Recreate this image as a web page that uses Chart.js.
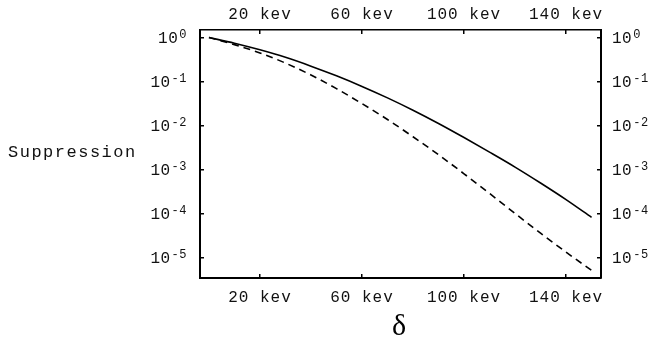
<!DOCTYPE html>
<html>
<head>
  <meta charset="UTF-8" />
  <title>Suppression</title>
  <script src="https://cdn.jsdelivr.net/npm/chart.js"></script>
  <style>
    html, body { margin: 0; padding: 0; background: #fff; }
    canvas { display: block; }
  </style>
</head>
<body>
  <canvas id="grafico" width="652" height="339"></canvas>

  <script>
    // datos (delta en kev, supresion)
    const deltas = [0, 10, 20, 30, 40, 50, 60, 70, 80, 90, 100, 110, 120, 130, 140, 150];
    const suppressionSolid = [1, 0.741, 0.525, 0.355, 0.224, 0.135, 0.0776, 0.0427, 0.0224, 0.0112,
      0.00537, 0.00251, 0.00115, 0.0005, 0.00021, 0.000083];
    const suppressionDashed = [1, 0.69, 0.447, 0.263, 0.141, 0.0692, 0.0316, 0.0138, 0.0056, 0.00219,
      0.00081, 0.00029, 0.000102, 0.0000363, 0.0000135, 0.0000052];

    const xTicks = [20, 60, 100, 140];
    const xTickLabels = ['20 kev', '60 kev', '100 kev', '140 kev'];
    const yTicks = [1, 0.1, 0.01, 0.001, 0.0001, 0.00001];
    const yTickExp = ['0', '-1', '-2', '-3', '-4', '-5'];

    const xMin = -3.5, xMax = 153.7;
    const yMin = 3.5e-6, yMax = 1.48;

    const monoFam = "'Liberation Mono', 'DejaVu Sans Mono', monospace";
    const mono = { family: monoFam, size: 16 };

    function pts(ys) {
      return deltas.map((d, i) => ({ x: d, y: ys[i] }));
    }

    function xAxis(pos, pad, size) {
      return {
        type: 'linear', position: pos, min: xMin, max: xMax,
        border: { display: true, color: '#000', width: pos === 'top' ? 1.5 : 2 },
        grid: { display: true, drawOnChartArea: false, drawTicks: true, tickLength: -4, color: '#000', lineWidth: 1.5 },
        afterBuildTicks: s => { s.ticks = xTicks.map(v => ({ value: v })); },
        afterFit: s => { s.height = size; },
        ticks: {
          color: '#111', font: mono, padding: pad, maxRotation: 0, autoSkip: false,
          callback: (v) => xTickLabels[xTicks.indexOf(v)]
        }
      };
    }

    function yAxis(pos, size) {
      return {
        type: 'logarithmic', position: pos, min: yMin, max: yMax,
        border: { display: true, color: '#000', width: 2 },
        grid: { display: true, drawOnChartArea: false, drawTicks: true, tickLength: -4, color: '#000', lineWidth: 1.5 },
        afterBuildTicks: s => { s.ticks = yTicks.map(v => ({ value: v })); },
        afterFit: s => { s.width = size; },
        ticks: { display: false }
      };
    }

    // potencias de 10 con exponente elevado, en las posiciones de la escala
    const potencias = {
      id: 'potencias',
      afterDraw(chart) {
        const ctx = chart.ctx;
        ctx.save();
        ctx.fillStyle = '#111';
        ctx.letterSpacing = '0.5px';
        ['y', 'y2'].forEach(id => {
          const s = chart.scales[id];
          yTicks.forEach((v, i) => {
            const py = s.getPixelForValue(v);
            ctx.font = '16px ' + monoFam;
            const wBase = ctx.measureText('10').width;
            ctx.font = '12px ' + monoFam;
            const wExp = ctx.measureText(yTickExp[i]).width;
            let x0 = id === 'y' ? s.right - 13 - wExp - wBase - 1 : s.left + 11;
            ctx.textAlign = 'left';
            ctx.textBaseline = 'middle';
            ctx.font = '16px ' + monoFam;
            ctx.fillText('10', x0, py + 1);
            ctx.font = '12px ' + monoFam;
            ctx.textBaseline = 'alphabetic';
            ctx.fillText(yTickExp[i], x0 + wBase + 1, py);
          });
        });
        ctx.restore();
      }
    };

    // textos fuera de los ejes: "Suppression" horizontal y delta
    const etiquetas = {
      id: 'etiquetas',
      beforeDraw(chart) { chart.ctx.letterSpacing = '1px'; },
      afterDraw(chart) {
        const ctx = chart.ctx;
        ctx.save();
        ctx.fillStyle = '#111';
        ctx.textBaseline = 'alphabetic';
        ctx.textAlign = 'left';
        ctx.letterSpacing = '1.5px';
        ctx.font = "17px " + monoFam;
        ctx.fillText('Suppression', 8, 157);
        ctx.letterSpacing = '0px';
        ctx.textAlign = 'center';
        ctx.font = "30px 'Liberation Serif', serif";
        ctx.fillStyle = '#000';
        ctx.fillText('δ', 399, 335);
        ctx.restore();
      }
    };

    const ctx = document.getElementById('grafico').getContext('2d');
    new Chart(ctx, {
      type: 'line',
      data: {
        datasets: [
          { data: pts(suppressionSolid), borderColor: '#000', borderWidth: 1.6, pointRadius: 0, cubicInterpolationMode: 'monotone', fill: false },
          { data: pts(suppressionDashed), borderColor: '#000', borderWidth: 1.6, borderDash: [7, 5], pointRadius: 0, cubicInterpolationMode: 'monotone', fill: false }
        ]
      },
      options: {
        responsive: false,
        animation: false,
        layout: { padding: 0, autoPadding: false },
        plugins: { legend: { display: false }, tooltip: { enabled: false } },
        scales: {
          x: xAxis('bottom', 14, 61),
          x2: xAxis('top', 10, 30),
          y: yAxis('left', 200),
          y2: yAxis('right', 51)
        }
      },
      plugins: [etiquetas, potencias]
    });
  </script>
</body>
</html>
